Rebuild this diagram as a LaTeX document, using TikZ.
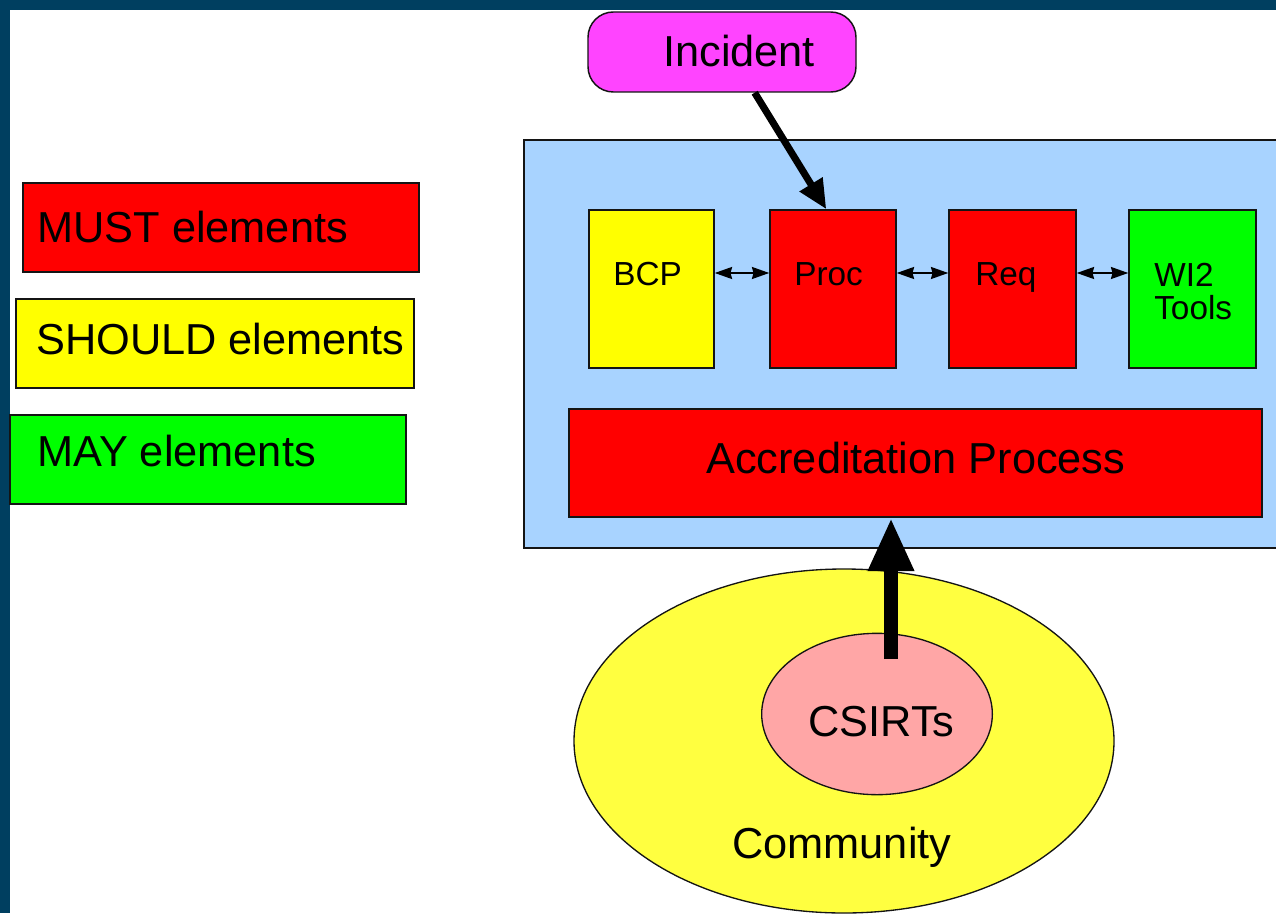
\documentclass[tikz,border=0pt]{standalone}
\usepackage{fontspec}
\setmainfont{Liberation Sans}
\usetikzlibrary{arrows.meta,fit,shapes.geometric}

\definecolor{frameblue}{RGB}{0,63,96}
\definecolor{panelblue}{RGB}{168,211,255}
\definecolor{mustred}{RGB}{255,0,0}
\definecolor{shouldyellow}{RGB}{255,255,0}
\definecolor{maygreen}{RGB}{0,255,0}
\definecolor{incidentpink}{RGB}{255,68,255}
\definecolor{communityyellow}{RGB}{255,255,64}
\definecolor{csirtpink}{RGB}{255,166,166}
\definecolor{edgegray}{RGB}{20,20,20}

\begin{document}
\begin{tikzpicture}[x=0.75pt,y=-0.75pt,
  box/.style={draw=edgegray,line width=1.1pt,inner sep=0pt,rectangle},
  bigtext/.style={font=\fontsize{32.5}{34}\selectfont,inner sep=0pt,anchor=base west},
  smalltext/.style={font=\fontsize{25}{24.75}\selectfont,inner sep=0pt,anchor=base west,align=left},
  blob/.style={draw=edgegray,line width=1pt,ellipse,inner sep=0pt},
  link/.style={line width=1.4pt,
    {Stealth[length=13pt,width=9pt,inset=1.2pt]}-{Stealth[length=13pt,width=9pt,inset=1.2pt]}},
  feed/.style={line width=5.3pt,-{Triangle[length=22pt,width=19pt]}},
  rise/.style={line width=10.5pt,-{Triangle[length=40pt,width=32pt]}}
]
\useasboundingbox (0,0) rectangle (1276,913);
\clip (0,0) rectangle (1276,913);

% frame and page
\fill[frameblue] (0,0) rectangle (1276,913);
\fill[white] (10,10) rectangle (1276,913);

% legend
\node[box,fill=mustred,fit={(23,183)(419,272)}] (must) {};
\node[bigtext] (musttxt) at (37,242) {MUST elements};
\node[box,fill=shouldyellow,fit={(16,299)(414,388)}] (should) {};
\node[bigtext] (shouldtxt) at (36,354) {SHOULD elements};
\node[box,fill=maygreen,fit={(10,415)(406,504)}] (may) {};
\node[bigtext] (maytxt) at (37,466) {MAY elements};

% process panel
\node[box,fill=panelblue,fit={(524,140)(1290,548)}] (panel) {};

\node[box,fill=shouldyellow,fit={(589,210)(714,368)}] (bcp) {};
\node[smalltext] (bcptxt) at (613,285) {BCP};
\node[box,fill=mustred,fit={(770,210)(896,368)}] (proc) {};
\node[smalltext] (proctxt) at (794,285) {Proc};
\node[box,fill=mustred,fit={(949,210)(1076,368)}] (req) {};
\node[smalltext] (reqtxt) at (975,285) {Req};
\node[box,fill=maygreen,fit={(1129,210)(1256,368)}] (tools) {};
\node[smalltext,anchor=north west] (toolstxt) at (1154,263) {WI2\\Tools};

\node[box,fill=mustred,fit={(569,409)(1262,517)}] (accr) {};
\node[bigtext] (accrtxt) at (706,473) {Accreditation Process};

% incident
\node[box,fill=incidentpink,rounded corners=19pt,fit={(588,12)(856,92)}] (incident) {};
\node[bigtext] (incidenttxt) at (663,67) {Incident};

% community
\node[blob,fill=communityyellow,minimum width=405pt,minimum height=258pt] (community) at (844,741) {};
\node[bigtext] (communitytxt) at (732,858) {Community};
\node[blob,fill=csirtpink,minimum width=173pt,minimum height=121pt] (csirts) at (877,714) {};
\node[bigtext] (csirtstxt) at (808,736) {CSIRTs};

% connectors
\draw[link] ([yshift=12pt]bcp.east) -- ([yshift=12pt]proc.west);
\draw[link] ([yshift=12pt]proc.east) -- ([yshift=12pt]req.west);
\draw[link] ([yshift=12pt]req.east) -- ([yshift=12pt]tools.west);

\draw[feed] ([xshift=24.5pt]incident.south) -- ([xshift=-5pt]proc.north);

\coordinate (risefoot) at (891,659);
\draw[rise] (risefoot) -- (risefoot |- accr.south);
\end{tikzpicture}
\end{document}
